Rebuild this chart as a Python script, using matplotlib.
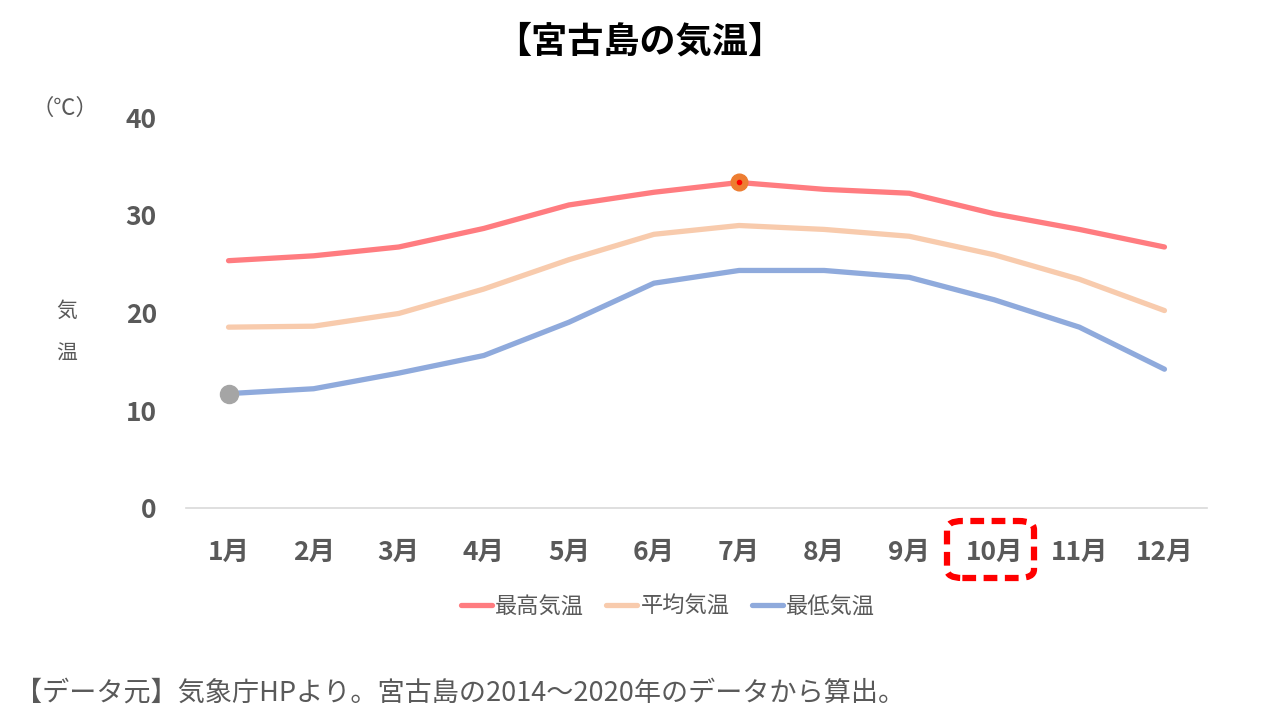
import matplotlib.pyplot as plt
from matplotlib.patches import FancyBboxPatch

plt.rcParams['font.family'] = ['Noto Sans CJK JP', 'DejaVu Sans']

# data
months = ['1月', '2月', '3月', '4月', '5月', '6月', '7月', '8月', '9月', '10月', '11月', '12月']
high = [25.3, 25.8, 26.7, 28.6, 31.0, 32.3, 33.3, 32.6, 32.2, 30.1, 28.5, 26.7]
avg = [18.5, 18.6, 19.9, 22.4, 25.4, 28.0, 28.9, 28.5, 27.8, 25.9, 23.4, 20.2]
low = [11.7, 12.2, 13.8, 15.6, 19.0, 23.0, 24.3, 24.3, 23.6, 21.3, 18.5, 14.2]
series_names = ['最高気温', '平均気温', '最低気温']
yticks = [0, 10, 20, 30, 40]

gray = '#595959'
colors = ['#FF7C80', '#F8CBAD', '#8FAADC']

fig = plt.figure(figsize=(12.8, 7.2), dpi=100)
ax = fig.add_axes([186/1280, 1-508/720, (1207-186)/1280, (508-117)/720])

x = list(range(1, len(months)+1))
for vals, name, c in zip([high, avg, low], series_names, colors):
    ax.plot(x, vals, color=c, lw=3.8, label=name, solid_capstyle='round', solid_joinstyle='round')

# highlighted points
ax.plot(x[6], high[6], 'o', ms=12, color='#ED7D31', zorder=5)
ax.plot(x[6], high[6], 'o', ms=3, color='#FF0000', zorder=6)
ax.plot(x[0], low[0], 'o', ms=13, color='#A5A5A5', zorder=5)

ax.set_xlim(0.5, 12.5)
ax.set_ylim(0, 40)
ax.set_xticks(x)
ax.set_xticklabels(months, fontsize=19, fontweight='bold', color=gray)
ax.set_yticks(yticks)
ax.set_yticklabels([str(v) for v in yticks], fontsize=19, fontweight='bold', color=gray)
ax.tick_params(axis='x', length=0, pad=22)
ax.tick_params(axis='y', length=0, pad=21)
for s in ['top', 'right', 'left']:
    ax.spines[s].set_visible(False)
ax.spines['bottom'].set_color('#D9D9D9')
ax.spines['bottom'].set_linewidth(1.2)

fig.text(0.5, 1-42/720, '【宮古島の気温】', ha='center', va='center', fontsize=26, fontweight='bold', color='black')
fig.text(65/1280, 1-108/720, '（℃）', ha='center', va='center', fontsize=16, color=gray)
fig.text(67/1280, 1-311/720, '気', ha='center', va='center', fontsize=15, color=gray)
fig.text(67/1280, 1-354/720, '温', ha='center', va='center', fontsize=15, color=gray)
fig.text(15/1280, 1-693/720, '【データ元】気象庁HPより。宮古島の2014～2020年のデータから算出。',
         ha='left', va='center', fontsize=19.5, color=gray)

fig.legend(loc='center', bbox_to_anchor=(668/1280, 1-606/720), ncol=3, frameon=False,
           fontsize=16, handlelength=1.4, handletextpad=0.15, columnspacing=1.0,
           labelcolor=gray)

# red dashed box around 10月
box = FancyBboxPatch((947/1280, 1-578/720), (1034-947)/1280, (578-521)/720,
                     boxstyle='round,pad=0,rounding_size=0.012', transform=fig.transFigure,
                     fill=False, edgecolor='#FF0000', lw=4.5, linestyle=(0, (2.2, 1.2)))
fig.add_artist(box)

fig.savefig('out.png', dpi=100)
